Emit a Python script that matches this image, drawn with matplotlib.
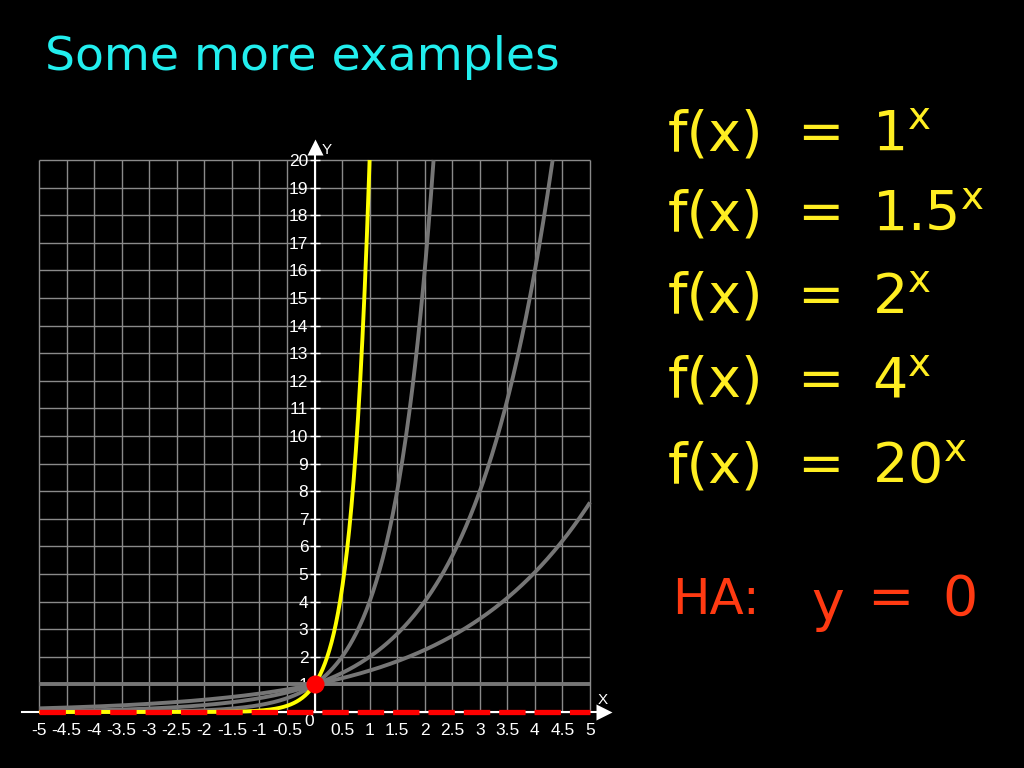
import numpy as np
import matplotlib
matplotlib.use("Agg")
import matplotlib.pyplot as plt

# ---- data ----
bases = [1, 1.5, 2, 4, 20]
curve_colors = ["#767676", "#767676", "#767676", "#767676", "#ffff00"]
x_ticks = [-5, -4.5, -4, -3.5, -3, -2.5, -2, -1.5, -1, -0.5, 0.5, 1, 1.5, 2, 2.5, 3, 3.5, 4, 4.5, 5]
x_tick_labels = ["-5", "-4.5", "-4", "-3.5", "-3", "-2.5", "-2", "-1.5", "-1", "-0.5",
                 "0.5", "1", "1.5", "2", "2.5", "3", "3.5", "4", "4.5", "5"]
y_ticks = list(range(1, 21))
y_tick_labels = [str(v) for v in y_ticks]
formula_bases = ["1", "1.5", "2", "4", "20"]
asymptote_y = 0
intercept = (0, 1)

plt.rcParams['font.family'] = ['Liberation Sans', 'DejaVu Sans']
plt.rcParams['mathtext.default'] = 'regular'

fig = plt.figure(figsize=(10.24, 7.68), dpi=100, facecolor="black")
W, H = 1024, 768
left_px, right_px, top_px, bot_px = 15, 615, 140, 745
ax = fig.add_axes([left_px / W, (H - bot_px) / H, (right_px - left_px) / W, (bot_px - top_px) / H])
ax.set_facecolor("black")
sx, x0 = 55.1, 314.5
sy, y0 = 27.6, 712
ax.set_xlim((left_px - x0) / sx, (right_px - x0) / sx)
ax.set_ylim((y0 - bot_px) / sy, (y0 - top_px) / sy)

# grid
gx = np.arange(-5, 5.01, 0.5)
gy = np.arange(0, 20.01, 1)
ax.vlines(gx, 0, 20, color="#8a8a8a", lw=1, zorder=1)
ax.hlines(gy, -5, 5, color="#8a8a8a", lw=1, zorder=1)

# curves
for b, c in zip(bases, curve_colors):
    xmax = 5 if b == 1 else min(5, np.log(20) / np.log(b))
    xs = np.linspace(-5, xmax, 600)
    ax.plot(xs, np.power(float(b), xs), color=c, lw=2.8, zorder=3 if c != "#ffff00" else 4,
            solid_capstyle="butt")

# axes spines
for s in ["top", "right"]:
    ax.spines[s].set_visible(False)
ax.spines["left"].set_position(("data", 0))
ax.spines["bottom"].set_position(("data", 0))
ax.spines["left"].set_color("white")
ax.spines["bottom"].set_color("white")
ax.spines["left"].set_linewidth(1.5)
ax.spines["bottom"].set_linewidth(1.5)
ax.spines["left"].set_bounds(0, (y0 - 150) / sy)
ax.spines["bottom"].set_bounds((22 - x0) / sx, (600 - x0) / sx)
ax.spines["left"].set_zorder(2)
ax.spines["bottom"].set_zorder(2)

# arrowheads
ax.plot([(604 - x0) / sx], [0], marker=">", color="white", ms=11, clip_on=False, zorder=6, mec="none")
ax.plot([0], [(y0 - 147) / sy], marker="^", color="white", ms=11, clip_on=False, zorder=6, mec="none")
ax.text((603 - x0) / sx, (y0 - 700) / sy, "X", color="white", fontsize=11, ha="center", va="center")
ax.text((327 - x0) / sx, (y0 - 150) / sy, "Y", color="white", fontsize=11, ha="center", va="center")

ax.set_xticks(x_ticks)
ax.set_xticklabels(x_tick_labels)
ax.set_yticks(y_ticks)
ax.set_yticklabels(y_tick_labels)
ax.tick_params(axis="x", length=0, colors="white", labelsize=12.5, pad=8)
ax.tick_params(axis="y", direction="inout", length=7, width=1, colors="white", labelsize=12.5, pad=1)
ax.text(-0.09, -0.36, "0", color="white", fontsize=12.5, ha="center", va="center")

# asymptote
ax.plot([-5, 5], [asymptote_y, asymptote_y], color="#ff0000", lw=3.8,
        linestyle=(0, (5.0, 1.7)), zorder=5, solid_capstyle="butt", dash_capstyle="butt")
ax.plot([intercept[0]], [intercept[1]], "o", color="#ff0000", ms=13, zorder=7, mec="none")

# title
fig.text(45 / W, 1 - 58 / H, "Some more examples", color="#22eeee", fontsize=34,
         ha="left", va="center", family=["DejaVu Sans"])

# formulas
ys = [135, 215, 298, 382, 467]
for yy, b in zip(ys, formula_bases):
    fig.text(668 / W, 1 - yy / H, "f(x)", color="#ffee22", fontsize=40, ha="left", va="center",
             family=["DejaVu Sans"])
    fig.text(820 / W, 1 - yy / H, "=", color="#ffee22", fontsize=40, ha="center", va="center",
             family=["DejaVu Sans"])
    fig.text(872 / W, 1 - yy / H, "$" + b + "^{x}$", color="#ffee22", fontsize=40, ha="left",
             va="center", family=["DejaVu Sans"])

red = "#ff3a12"
fig.text(672 / W, 1 - 600 / H, "HA:", color=red, fontsize=36, ha="left", va="center", family=["DejaVu Sans"])
fig.text(828 / W, 1 - 605 / H, "y", color=red, fontsize=40, ha="center", va="center", family=["DejaVu Sans"])
fig.text(890 / W, 1 - 600 / H, "=", color=red, fontsize=40, ha="center", va="center", family=["DejaVu Sans"])
fig.text(960 / W, 1 - 600 / H, "0", color=red, fontsize=40, ha="center", va="center", family=["DejaVu Sans"])

fig.savefig("out.png", dpi=100, facecolor="black")
